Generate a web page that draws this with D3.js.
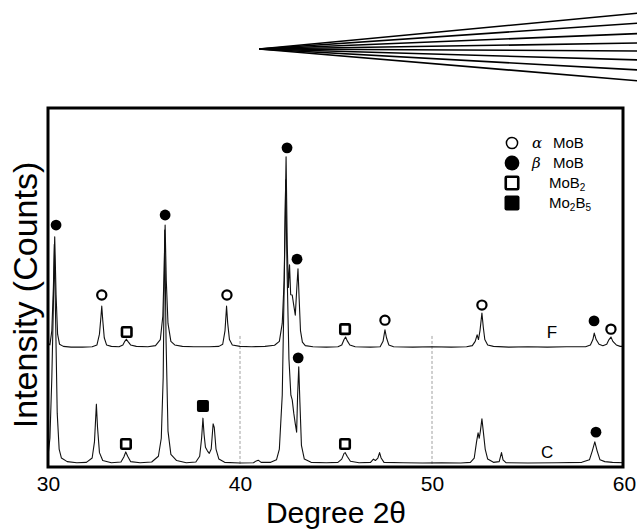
<!DOCTYPE html>
<html><head><meta charset="utf-8">
<script src="https://cdn.jsdelivr.net/npm/d3@7"></script>
<style>html,body{margin:0;padding:0;background:#fff;}svg{display:block;}</style>
</head><body>
<script>
// ---- data (2θ in degrees, intensity in arbitrary counts) ----
const xTicks = [30, 40, 50, 60];
const gridLines = [40, 50];

const traceF = [[30.0,34.5],[30.1,34.0],[30.2,38],[30.28,50],[30.35,64.1],[30.42,48],[30.5,37],[30.6,34.2],[30.8,33.6],[31.2,33.4],[31.8,33.4],[32.3,33.5],[32.55,34.0],[32.68,37],[32.76,42],[32.8,44.8],[32.85,41],[32.93,36],[33.05,34],[33.3,33.6],[33.7,33.5],[33.9,34.0],[34.0,35.0],[34.08,35.6],[34.16,35.0],[34.3,34.0],[34.6,33.6],[35.2,33.5],[35.6,33.8],[35.85,35.5],[35.98,42],[36.05,55],[36.1,67.4],[36.16,52],[36.25,40],[36.4,35],[36.6,34.0],[37.0,33.6],[37.6,33.5],[38.4,33.5],[38.9,33.6],[39.1,34.2],[39.22,38],[39.3,44.8],[39.36,40],[39.45,35.5],[39.6,34.0],[40.0,33.6],[40.6,33.5],[41.3,33.6],[41.8,33.9],[42.05,35],[42.2,40],[42.3,52],[42.4,86.4],[42.46,62],[42.52,50],[42.58,56.3],[42.64,48],[42.72,47.9],[42.8,45],[42.88,42.3],[42.96,50],[43.02,55.2],[43.08,47],[43.15,38],[43.25,34.8],[43.4,33.8],[43.8,33.5],[44.5,33.4],[45.1,33.5],[45.3,34.0],[45.42,35.5],[45.5,36.2],[45.58,35.2],[45.72,34],[46.0,33.5],[46.8,33.4],[47.3,33.5],[47.45,35],[47.55,38.2],[47.63,36],[47.75,34],[48.0,33.5],[49,33.4],[50,33.5],[51,33.4],[51.8,33.5],[52.1,33.8],[52.25,35],[52.35,36.8],[52.42,35.5],[52.5,38],[52.6,42.9],[52.67,39],[52.75,35.5],[52.9,34],[53.2,33.6],[54,33.4],[55,33.5],[56,33.4],[57,33.5],[58.0,33.5],[58.25,34],[58.38,35.5],[58.45,37.3],[58.55,35.5],[58.7,34.2],[58.9,33.8],[59.1,34.2],[59.22,35.5],[59.32,36.2],[59.42,35],[59.6,34],[59.8,33.6],[60.0,33.6]];

const traceC = [[30.0,3],[30.1,8],[30.2,25],[30.28,45],[30.33,62],[30.4,40],[30.48,15],[30.58,5],[30.7,2.5],[31.0,1.5],[31.5,1.2],[32.0,1.3],[32.3,2.5],[32.42,7],[32.52,17.5],[32.58,11],[32.68,4],[32.85,1.8],[33.3,1.2],[33.8,1.4],[33.95,2.8],[34.05,4.2],[34.15,3.0],[34.3,1.5],[34.8,1.2],[35.4,1.4],[35.75,3],[35.9,8],[36.0,25],[36.08,66],[36.15,35],[36.25,10],[36.4,3.5],[36.7,1.8],[37.2,1.2],[37.7,1.4],[37.9,3],[38.0,8],[38.07,13.6],[38.13,9],[38.2,5.5],[38.3,4.5],[38.4,3.8],[38.5,5],[38.6,12],[38.66,11],[38.75,5],[38.9,2.2],[39.2,1.3],[40.0,1.1],[40.7,1.2],[40.85,1.7],[40.95,1.9],[41.1,1.3],[41.6,1.3],[41.9,2.0],[42.05,5],[42.2,20],[42.3,50],[42.38,80],[42.45,55],[42.55,30],[42.65,20],[42.72,18.7],[42.8,15],[42.88,12],[42.95,9.7],[43.0,20],[43.06,27.9],[43.12,18],[43.2,6],[43.35,2.2],[43.7,1.3],[44.5,1.2],[45.1,1.3],[45.3,2.2],[45.42,3.8],[45.48,4.0],[45.58,3.0],[45.75,1.6],[46.2,1.2],[46.8,1.3],[46.95,2.2],[47.05,1.8],[47.18,2.5],[47.27,4.0],[47.35,2.5],[47.5,1.3],[48.5,1.2],[49.5,1.1],[50.5,1.2],[51.5,1.1],[52.0,1.3],[52.2,2.5],[52.32,7],[52.4,9.5],[52.46,8],[52.52,10],[52.6,13.4],[52.67,10],[52.77,5],[52.9,2.2],[53.2,1.3],[53.5,1.5],[53.62,4],[53.7,2],[53.85,1.2],[55,1.1],[56.5,1.2],[57.8,1.3],[58.2,2],[58.35,4.5],[58.48,7.0],[58.6,4.5],[58.75,2.0],[59.0,1.5],[59.4,1.3],[60.0,1.2]];

// peak markers: [2θ, intensity, phase]
const markersF = [[30.42,67.4,"bMoB"],[32.8,47.9,"aMoB"],[34.1,37.6,"MoB2"],[36.1,70.2,"bMoB"],[39.32,47.9,"aMoB"],[42.45,88.9,"bMoB"],[42.97,57.9,"bMoB"],[45.47,38.4,"MoB2"],[47.55,40.9,"aMoB"],[52.6,45.1,"aMoB"],[58.44,40.7,"bMoB"],[59.32,38.4,"aMoB"]];
const markersC = [[34.06,6.4,"MoB2"],[38.07,17.0,"Mo2B5"],[43.03,30.4,"bMoB"],[45.47,6.4,"MoB2"],[58.54,9.7,"bMoB"]];

const traceLabels = [["F",56.25,37.5],["C",56.0,4.1]];
const legendItems = [["aMoB","α","MoB",""],["bMoB","β","MoB",""],["MoB2","","MoB","2"],["Mo2B5","","Mo","2B5"]];
const fanEnds = [13, 23, 33.5, 43, 51, 60, 70, 81];

// ---- drawing ----
const W = 637, H = 531;
const svg = d3.select("body").append("svg").attr("width", W).attr("height", H);
const font = "Liberation Sans, Arial, Helvetica, sans-serif";

const x = d3.scaleLinear().domain([30, 60]).range([48, 624]);
const y = d3.scaleLinear().domain([0, 100]).range([467, 108]);

// decorative fan at top
const fanX = d3.scaleLinear().domain([0, 1]).range([259, 640]);
const fanApexY = 49;
svg.append("g").selectAll("line").data(fanEnds).join("line")
  .attr("x1", fanX(0)).attr("y1", fanApexY)
  .attr("x2", fanX(1)).attr("y2", d => d)
  .attr("stroke", "#000").attr("stroke-width", 1.6);

// grid lines (dotted) at 40, 50
svg.append("g").selectAll("line").data(gridLines).join("line")
  .attr("x1", d => x(d)).attr("x2", d => x(d))
  .attr("y1", y(36.5)).attr("y2", y(0.5))
  .attr("stroke", "#888").attr("stroke-width", 0.8).attr("stroke-dasharray", "3,2");

const line = d3.line().x(d => x(d[0])).y(d => y(d[1]));
[traceC, traceF].forEach(t => {
  svg.append("path").datum(t).attr("d", line)
    .attr("fill", "none").attr("stroke", "#111").attr("stroke-width", 1.1)
    .attr("stroke-linejoin", "round");
});

function drawMarker(g, type, cx, cy, big) {
  if (type === "aMoB") {
    g.append("circle").attr("cx", cx).attr("cy", cy).attr("r", big ? 5.6 : 4.6)
      .attr("fill", "#fff").attr("stroke", "#000").attr("stroke-width", big ? 1.5 : 2.2);
  } else if (type === "bMoB") {
    g.append("circle").attr("cx", cx).attr("cy", cy).attr("r", big ? 7.4 : 5.4)
      .attr("fill", "#000");
  } else if (type === "MoB2") {
    const a = big ? 12.5 : 9.5;
    g.append("rect").attr("x", cx - a / 2).attr("y", cy - a / 2).attr("width", a).attr("height", a)
      .attr("rx", 1).attr("fill", "#fff").attr("stroke", "#000").attr("stroke-width", 2.6);
  } else {
    const a = big ? 15 : 12;
    g.append("rect").attr("x", cx - a / 2).attr("y", cy - a / 2).attr("width", a).attr("height", a)
      .attr("rx", 2).attr("fill", "#000");
  }
}
const mg = svg.append("g");
markersF.concat(markersC).forEach(m => drawMarker(mg, m[2], x(m[0]), y(m[1]), false));

// trace labels
svg.append("g").selectAll("text").data(traceLabels).join("text")
  .attr("x", d => x(d[1])).attr("y", d => y(d[2]))
  .attr("text-anchor", "middle").attr("dominant-baseline", "central")
  .attr("font-family", font).attr("font-size", 17).text(d => d[0]);

// frame
svg.append("rect").attr("x", 48).attr("y", 108).attr("width", 575).attr("height", 359)
  .attr("fill", "none").attr("stroke", "#000").attr("stroke-width", 3);

// x axis
const ax = svg.append("g").attr("transform", "translate(0,467)")
  .call(d3.axisBottom(x).tickValues(xTicks).tickSize(0).tickPadding(9).tickFormat(d3.format("d")));
ax.select(".domain").remove();
ax.selectAll("text").attr("font-family", font).attr("font-size", 21).attr("fill", "#000");

// axis titles
svg.append("text").attr("x", 336).attr("y", 523).attr("text-anchor", "middle")
  .attr("font-family", font).attr("font-size", 30).text("Degree 2θ");
svg.append("text").attr("transform", "translate(37,295) rotate(-90)").attr("text-anchor", "middle")
  .attr("font-family", font).attr("font-size", 34).text("Intensity (Counts)");

// legend
const lg = svg.append("g");
const legY = d3.scaleLinear().domain([0, 1]).range([143, 163]);
legendItems.forEach((d, i) => {
  const cy = legY(i);
  drawMarker(lg, d[0], 512, cy, true);
  const t = lg.append("text").attr("y", cy + 5).attr("font-family", font).attr("font-size", 15);
  if (d[1]) {
    t.attr("x", 532);
    t.append("tspan").attr("font-style", "italic").attr("font-family", "DejaVu Serif, serif").text(d[1]);
    t.append("tspan").attr("x", 553).text(d[2]);
  } else if (d[0] === "MoB2") {
    t.attr("x", 549);
    t.append("tspan").text(d[2]);
    t.append("tspan").attr("font-size", 10).attr("dy", 3).text(d[3]);
  } else {
    t.attr("x", 549);
    t.append("tspan").text("Mo");
    t.append("tspan").attr("font-size", 10).attr("dy", 3).text("2");
    t.append("tspan").attr("dy", -3).text("B");
    t.append("tspan").attr("font-size", 10).attr("dy", 3).text("5");
  }
});
</script>
</body></html>
